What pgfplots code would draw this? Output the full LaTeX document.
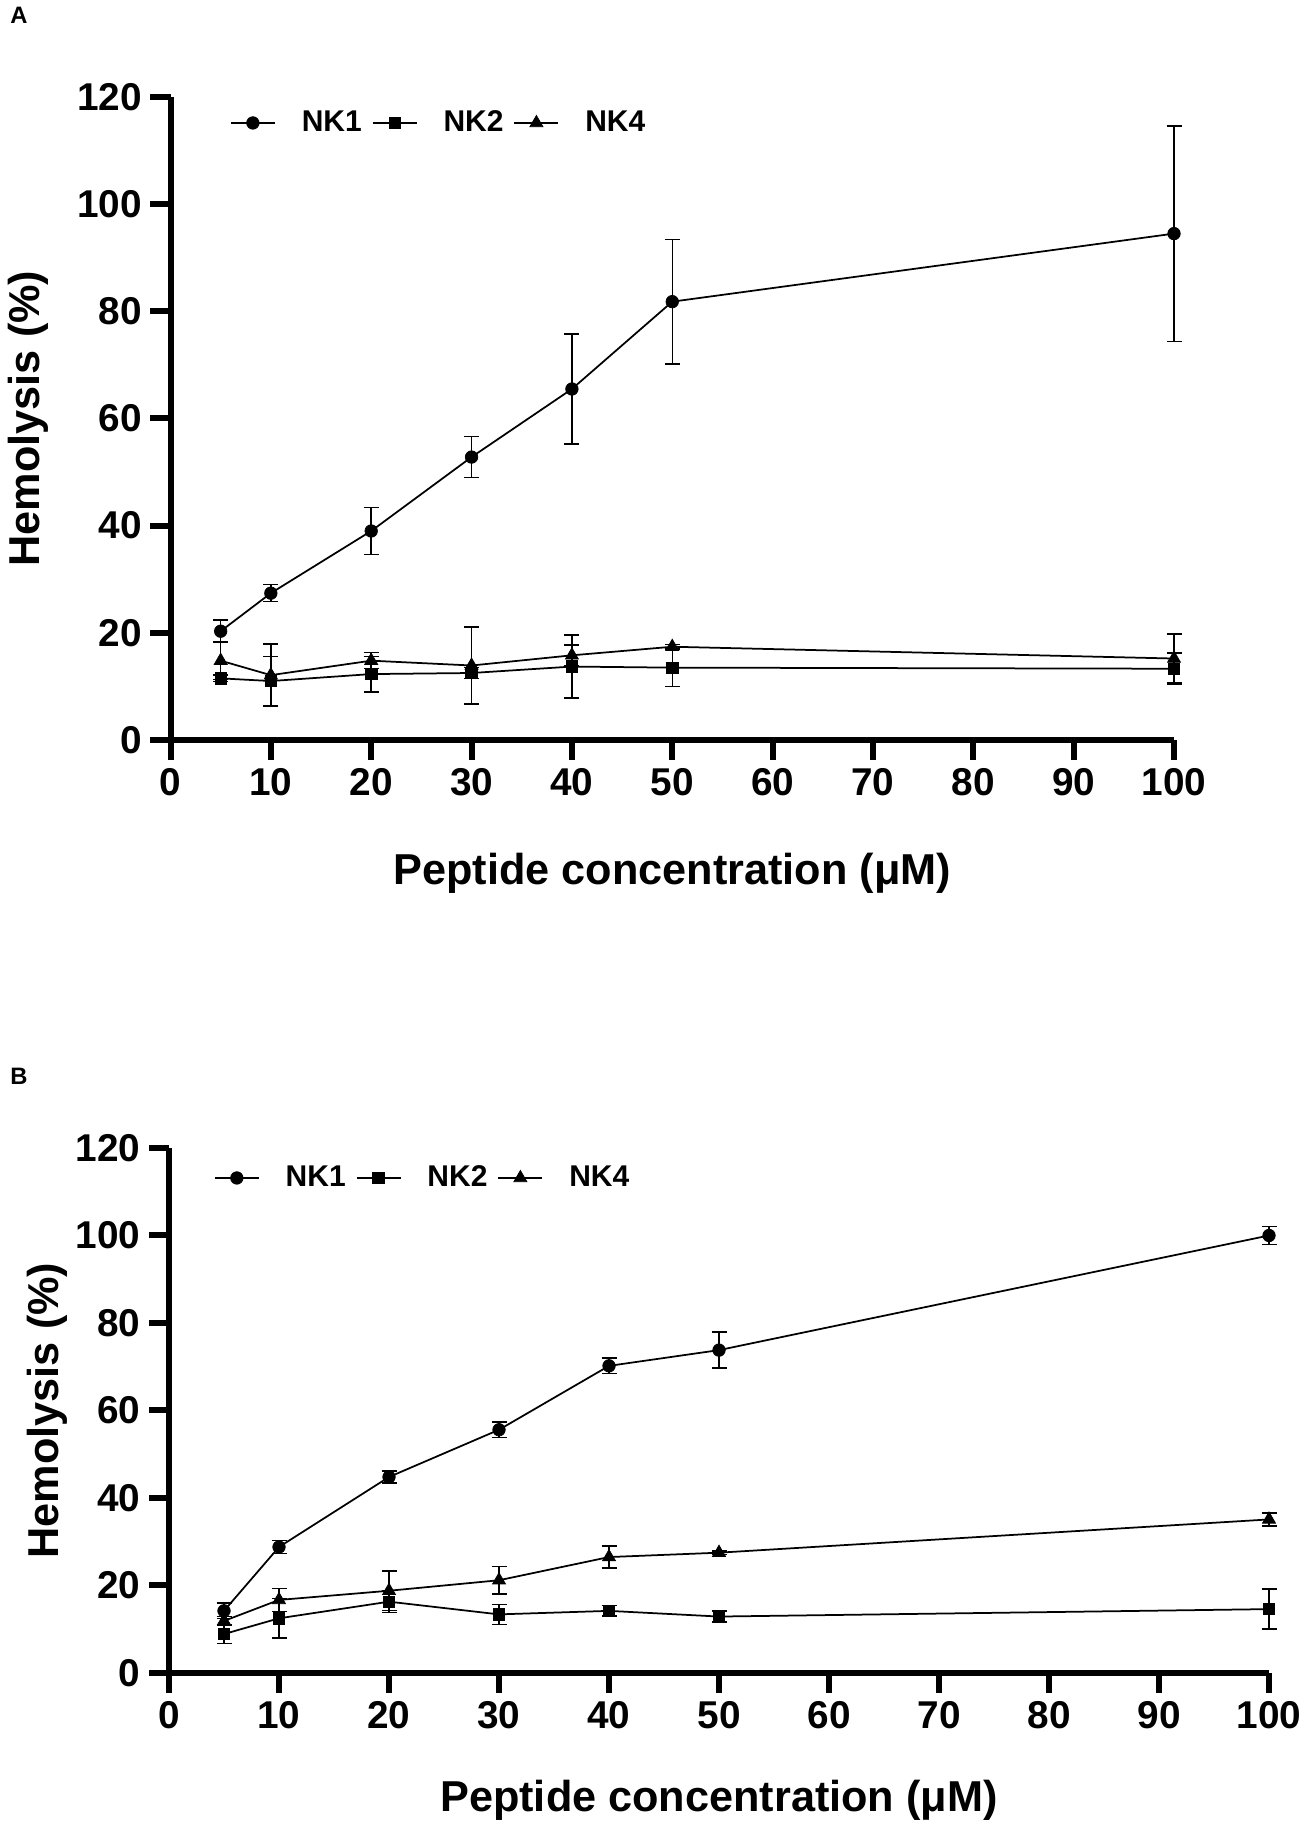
\documentclass[border=0pt]{standalone}
\usepackage{fontspec}
\setmainfont{Liberation Sans}
\usepackage{pgfplots}
\pgfplotsset{compat=1.18}

\pgfplotsset{
  hemo/.style={
    scale only axis,
    axis lines*=left,
    xmin=0, xmax=100, ymin=0, ymax=120,
    xtick={0,10,...,100}, ytick={0,20,...,120},
    tick align=outside,
    major tick length=8pt,
    tick style={line width=2.4pt, black},
    axis line style={line width=2.4pt, black},
    tick label style={font=\fontsize{15.5}{18}\selectfont\bfseries},
    /pgf/number format/assume math mode=true,
    label style={font=\fontsize{17.3}{20}\selectfont\bfseries},
    clip=false,
    legend columns=3,
    legend cell align=left,
    legend image code/.code={\draw[##1, mark repeat=2, mark phase=2] plot coordinates {(0pt,0pt) (8.8pt,0pt) (17.6pt,0pt)};},
    legend style={draw=none, fill=none, inner sep=0pt, outer sep=0pt,
      font=\fontsize{12}{14}\selectfont\bfseries, anchor=west,
      nodes={inner sep=0pt},
      /tikz/every odd column/.append style={column sep=10.4pt},
      /tikz/every even column/.append style={column sep=4pt}},
    xlabel={Peptide concentration (μM)},
    ylabel={Hemolysis (\%)},
  },
  ser/.style={black, line width=0.7pt, mark options={solid, fill=black, line width=0.3pt}},
  eb/.style={error bars/.cd, y dir=both, y explicit,
     error bar style={line width=0.6pt, black},
     error mark options={rotate=90, mark size=3pt, line width=0.6pt, black}},
}

\begin{document}
\begin{tikzpicture}
\useasboundingbox (0,0) rectangle (519.6pt,730pt);
\node[anchor=north west, inner sep=0pt, font=\fontsize{9.5}{11}\selectfont\bfseries] at (4pt,727.2pt) {A};
\node[anchor=north west, inner sep=0pt, font=\fontsize{9.5}{11}\selectfont\bfseries] at (4pt,302.8pt) {B};

% ---------------- Panel A ----------------
\begin{axis}[hemo,
  at={(68.2pt,434pt)}, anchor=south west,
  width=401.4pt, height=257.2pt,
  xlabel style={at={(axis description cs:0.5,-0.2255)}, anchor=base},
  ylabel style={at={(axis description cs:-0.142,0.5)}, anchor=center},
  legend style={at={(axis description cs:0.0593,0.9596)}},
]
\addplot[ser, mark=*, mark size=2.5pt, eb] coordinates {
 (5,20.3) +- (0,2.1)
 (10,27.4) +- (0,1.6)
 (20,39.0) +- (0,4.4)
 (30,52.8) +- (0,3.8)
 (40,65.5) +- (0,10.3)
 (50,81.8) +- (0,11.6)
 (100,94.5) +- (0,20.1)
};
\addlegendentry{NK1}
\addplot[ser, mark=square*, mark size=2.3pt, eb] coordinates {
 (5,11.5) +- (0,0.6)
 (10,11.0) +- (0,4.6)
 (20,12.3) +- (0,3.3)
 (30,12.5) +- (0,1.0)
 (40,13.7) +- (0,5.9)
 (50,13.5) +- (0,3.5)
 (100,13.3) +- (0,2.9)
};
\addlegendentry{NK2}
\addplot[ser, mark=triangle*, mark size=3pt, eb] coordinates {
 (5,14.8) +- (0,3.5)
 (10,12.1) +- (0,5.8)
 (20,14.8) +- (0,1.5)
 (30,13.9) +- (0,7.2)
 (40,15.8) +- (0,1.9)
 (50,17.4) +- (0,0.4)
 (100,15.2) +- (0,4.6)
};
\addlegendentry{NK4}
\end{axis}

% ---------------- Panel B ----------------
\begin{axis}[hemo,
  at={(67.6pt,60.8pt)}, anchor=south west,
  width=440pt, height=210pt,
  xlabel style={at={(axis description cs:0.5,-0.2629)}, anchor=base},
  ylabel style={at={(axis description cs:-0.111,0.5)}, anchor=center},
  legend style={at={(axis description cs:0.0409,0.9429)}},
]
\addplot[ser, mark=*, mark size=2.5pt, eb] coordinates {
 (5,14.2) +- (0,1.8)
 (10,28.8) +- (0,1.5)
 (20,44.8) +- (0,1.4)
 (30,55.6) +- (0,1.8)
 (40,70.2) +- (0,1.8)
 (50,73.8) +- (0,4.1)
 (100,100.0) +- (0,2.1)
};
\addlegendentry{NK1}
\addplot[ser, mark=square*, mark size=2.3pt, eb] coordinates {
 (5,8.9) +- (0,2.2)
 (10,12.5) +- (0,4.5)
 (20,16.3) +- (0,2.5)
 (30,13.4) +- (0,2.3)
 (40,14.2) +- (0,1.2)
 (50,12.9) +- (0,1.3)
 (100,14.6) +- (0,4.6)
};
\addlegendentry{NK2}
\addplot[ser, mark=triangle*, mark size=3pt, eb] coordinates {
 (5,11.9) +- (0,1.0)
 (10,16.7) +- (0,2.6)
 (20,18.8) +- (0,4.5)
 (30,21.2) +- (0,3.1)
 (40,26.5) +- (0,2.5)
 (50,27.5) +- (0,0.4)
 (100,35.1) +- (0,1.5)
};
\addlegendentry{NK4}
\end{axis}
\end{tikzpicture}
\end{document}
